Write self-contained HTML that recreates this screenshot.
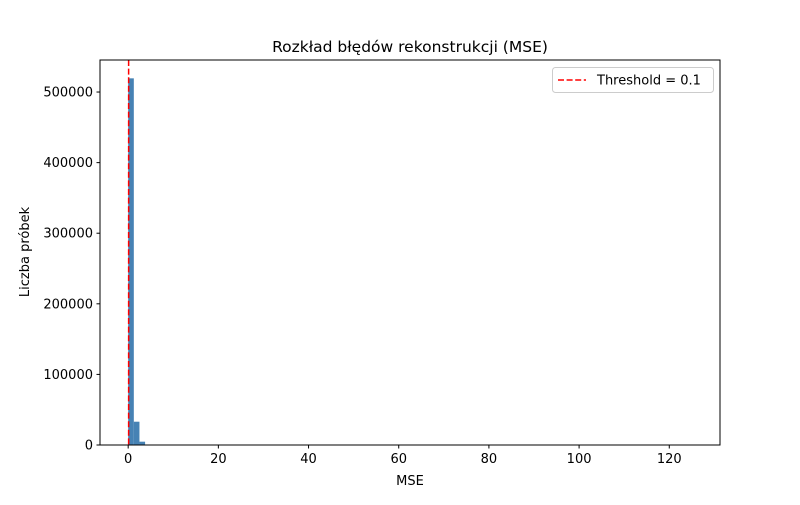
<!DOCTYPE html>
<html><head><meta charset="utf-8"><style>
body{margin:0;background:#fff;}
svg text{font-family:"DejaVu Sans","Liberation Sans",sans-serif;}
</style></head><body>
<svg id="chart" width="800" height="500" xmlns="http://www.w3.org/2000/svg">
<rect width="800" height="500" fill="#fff"/>
<g id="bars"></g>
<line id="thr" stroke="#ff0000" stroke-width="1.5" stroke-dasharray="6,2.6"/>
<rect x="100" y="60" width="620" height="385" fill="none" stroke="#000" stroke-width="1"/>
<g id="xticks"></g><g id="yticks"></g>
<text x="410" y="52" text-anchor="middle" font-size="15.5">Rozkład błędów rekonstrukcji (MSE)</text>
<text x="410" y="485" text-anchor="middle" font-size="13">MSE</text>
<text x="29" y="252" text-anchor="middle" font-size="13" transform="rotate(-90 29 252)">Liczba próbek</text>
<g>
<rect x="552.5" y="67.5" width="161" height="25" rx="3" fill="#fff" stroke="#ccc"/>
<line x1="558" y1="80" x2="586" y2="80" stroke="#ff0000" stroke-width="1.5" stroke-dasharray="6,2.6"/>
<text x="597" y="84.5" font-size="13">Threshold = 0.1</text>
</g>
</svg>
<script>
const binStarts=[0,1.25,2.5];
const binCounts=[519400,33000,4700];
const binWidth=1.25;
const threshold=0.1;
const xTicks=[0,20,40,60,80,100,120];
const yTicks=[0,100000,200000,300000,400000,500000];
const xMin=-6.25,xMax=131.25,yMax=545370;
const NS="http://www.w3.org/2000/svg";
const X=v=>100+(v-xMin)/(xMax-xMin)*620;
const Y=v=>445-v/yMax*385;
const bars=document.getElementById('bars');
binStarts.forEach((s,i)=>{
 const r=document.createElementNS(NS,'rect');
 r.setAttribute('x',X(s));r.setAttribute('width',X(s+binWidth)-X(s));
 r.setAttribute('y',Y(binCounts[i]));r.setAttribute('height',445-Y(binCounts[i]));
 r.setAttribute('fill','#4682b4');
 
 
 bars.appendChild(r);
});
const t=document.getElementById('thr');
t.setAttribute('x1',X(threshold));t.setAttribute('x2',X(threshold));
t.setAttribute('y1',60);t.setAttribute('y2',445);
const xg=document.getElementById('xticks');
xTicks.forEach(v=>{
 const l=document.createElementNS(NS,'line');
 l.setAttribute('x1',X(v));l.setAttribute('x2',X(v));l.setAttribute('y1',445);l.setAttribute('y2',448.5);l.setAttribute('stroke','#000');
 xg.appendChild(l);
 const tx=document.createElementNS(NS,'text');
 tx.setAttribute('x',X(v));tx.setAttribute('y',463);tx.setAttribute('text-anchor','middle');tx.setAttribute('font-size','13');
 tx.textContent=v;
 
 
 xg.appendChild(tx);
});
const yg=document.getElementById('yticks');
yTicks.forEach(v=>{
 const l=document.createElementNS(NS,'line');
 l.setAttribute('x1',96.5);l.setAttribute('x2',100);l.setAttribute('y1',Y(v));l.setAttribute('y2',Y(v));l.setAttribute('stroke','#000');
 yg.appendChild(l);
 const tx=document.createElementNS(NS,'text');
 tx.setAttribute('x',93);tx.setAttribute('y',Y(v)+4.5);tx.setAttribute('text-anchor','end');tx.setAttribute('font-size','13');
 tx.textContent=v;
 
 
 yg.appendChild(tx);
});
</script>
</body></html>
